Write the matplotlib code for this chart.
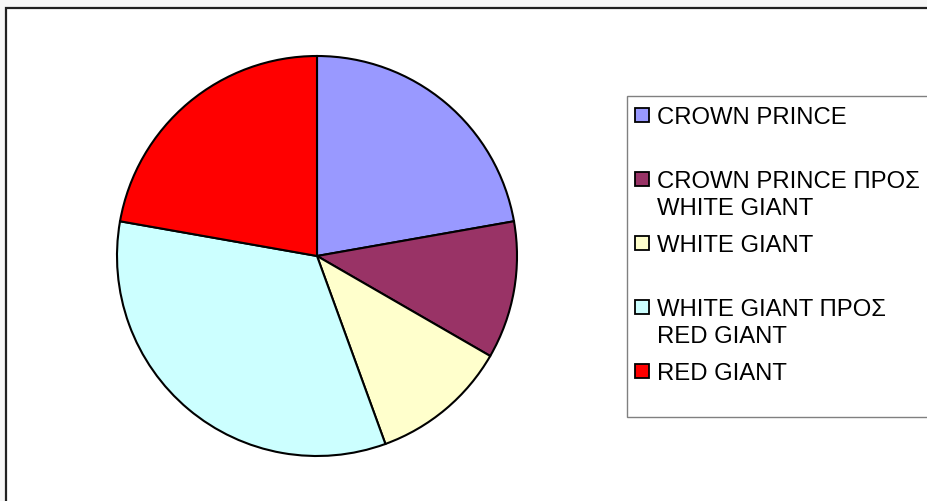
import matplotlib.pyplot as plt
from matplotlib.patches import Rectangle

plt.rcParams['font.family'] = ['Liberation Sans', 'DejaVu Sans']

# star stages and their counts
stages = ['CROWN PRINCE', 'CROWN PRINCE ΠΡΟΣ\nWHITE GIANT', 'WHITE GIANT',
          'WHITE GIANT ΠΡΟΣ\nRED GIANT', 'RED GIANT']
counts = [2, 1, 1, 3, 2]
colors = ['#9999FF', '#993366', '#FFFFCC', '#CCFFFF', '#FF0000']

W, H = 928, 501
fig = plt.figure(figsize=(W / 100, H / 100), dpi=100)
fig.patch.set_facecolor('#f6f6f6')


def fx(px):
    return px / W


def fy(py):
    # pixel rows are counted from the top
    return 1 - py / H


# chart area frame, running off the right and bottom edges
fig.patches.append(Rectangle((fx(6.5), -0.1), 1.2, fy(7.5) + 0.1,
                             transform=fig.transFigure, facecolor='white',
                             edgecolor='#202020', linewidth=1.6, zorder=-1))

# pie
cx, cy, r = 317, 256, 200
pad = 1.03
ax = fig.add_axes([fx(cx - r * pad), fy(cy + r * pad), fx(2 * r * pad), 2 * r * pad / H])
ax.pie(counts, colors=colors, startangle=90, counterclock=False,
       wedgeprops=dict(edgecolor='black', linewidth=1.5))
ax.set_xlim(-pad, pad)
ax.set_ylim(-pad, pad)
ax.set_aspect('equal')
ax.axis('off')

# legend box
lx, ltop, lbot = 627, 96, 417
fig.patches.append(Rectangle((fx(lx), fy(lbot)), 1.0, (lbot - ltop) / H,
                             transform=fig.transFigure, facecolor='white',
                             edgecolor='#808080', linewidth=1.0, zorder=1))

fs_pt = 17.2
fs_px = fs_pt * 100 / 72
slot = 64
for i, (name, col) in enumerate(zip(stages, colors)):
    first = ltop + 19 + i * slot
    fig.patches.append(Rectangle((fx(635), fy(first + 7)), fx(14), 14 / H,
                                 transform=fig.transFigure, facecolor=col,
                                 edgecolor='black', linewidth=1.3, zorder=2))
    for j, line in enumerate(name.split('\n')):
        yc = first + j * 27
        fig.text(fx(657), fy(yc + 0.358 * fs_px), line, fontsize=fs_pt,
                 va='baseline', ha='left', color='black', zorder=3)

fig.savefig('out.png', dpi=100, facecolor=fig.get_facecolor())
